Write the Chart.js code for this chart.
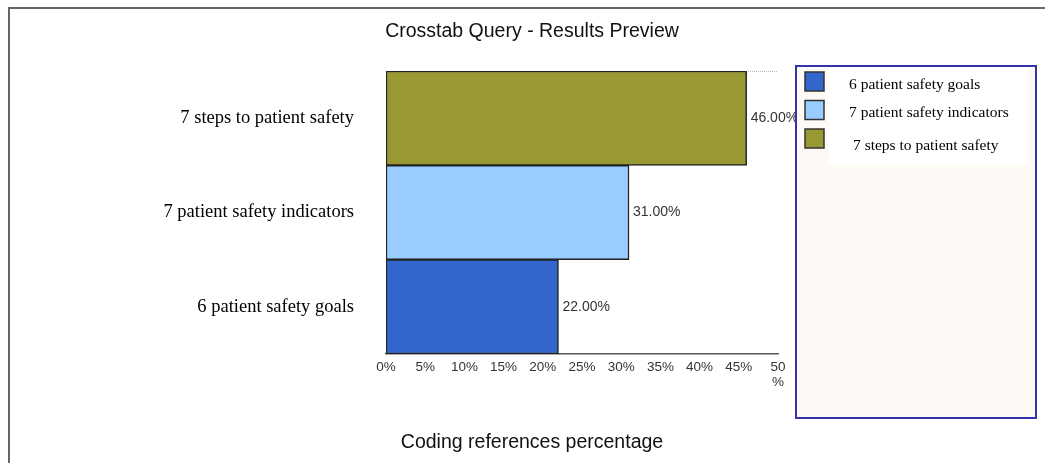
<!DOCTYPE html>
<html>
<head>
<meta charset="utf-8">
<script src="https://cdn.jsdelivr.net/npm/chart.js@4"></script>
<style>
  html, body { margin: 0; padding: 0; background: #fff; }
  #wrap { width: 1045px; height: 463px; }
</style>
</head>
<body>
<div id="wrap"><canvas id="crosstabChart" width="1045" height="463"></canvas></div>
<script>
// data (top to bottom)
const categories = ["7 steps to patient safety", "7 patient safety indicators", "6 patient safety goals"];
const percentages = [46, 31, 22];
const barColors = ["#999933", "#99ccff", "#3366cc"];
const tickValues = [0, 5, 10, 15, 20, 25, 30, 35, 40, 45, 50];

const chartTitle = "Crosstab Query - Results Preview";
const axisTitle = "Coding references percentage";

const SANS = "'Liberation Sans', Arial, sans-serif";
const SERIF = "'Liberation Serif', 'Times New Roman', serif";

// frame, titles, value labels and the boxed legend on the right
const extras = {
    id: "extras",
    beforeDatasetsDraw(chart) {
        const ctx = chart.ctx;
        const a = chart.chartArea;
        ctx.save();
        ctx.strokeStyle = "#bbb";
        ctx.lineWidth = 1;
        ctx.setLineDash([1, 1]);
        ctx.beginPath();
        ctx.moveTo(a.left, a.top + 0.5);
        ctx.lineTo(a.right, a.top + 0.5);
        ctx.stroke();
        ctx.restore();
    },
    afterDraw(chart) {
        const ctx = chart.ctx;
        const xs = chart.scales.x;
        const ys = chart.scales.y;
        ctx.save();

        // outer frame (top and left only)
        ctx.strokeStyle = "#666";
        ctx.lineWidth = 2;
        ctx.beginPath();
        ctx.moveTo(9, 463);
        ctx.lineTo(9, 8);
        ctx.lineTo(1045, 8);
        ctx.stroke();

        // titles
        ctx.fillStyle = "#111";
        ctx.textAlign = "center";
        ctx.textBaseline = "middle";
        ctx.font = "19.5px " + SANS;
        ctx.fillText(chartTitle, 532, 32);
        ctx.fillText(axisTitle, 532, 443);

        // value labels
        ctx.font = "14px " + SANS;
        ctx.fillStyle = "#333";
        ctx.textAlign = "left";
        percentages.forEach((v, i) => {
            ctx.fillText(v.toFixed(2) + "%", xs.getPixelForValue(v) + 4, ys.getPixelForValue(i));
        });

        // legend box
        ctx.fillStyle = "#fdf9f4";
        ctx.fillRect(796, 66, 240, 352);
        ctx.fillStyle = "#fff";
        ctx.fillRect(829, 68, 199, 97);
        ctx.strokeStyle = "#3333aa";
        ctx.lineWidth = 2;
        ctx.strokeRect(796, 66, 240, 352);

        ctx.font = "15.5px " + SERIF;
        ctx.textAlign = "left";
        const order = categories.map((c, i) => i).reverse();
        order.forEach((idx, k) => {
            const y = 72 + k * 28.5;
            ctx.fillStyle = barColors[idx];
            ctx.fillRect(805, y, 19, 19);
            ctx.strokeStyle = "#333";
            ctx.lineWidth = 1.5;
            ctx.strokeRect(805, y, 19, 19);
            ctx.fillStyle = "#000";
            ctx.fillText(categories[idx], 849 + (k === 2 ? 4 : 0), y + 12.5 + (k === 2 ? 4 : 0));
        });
        ctx.restore();
    }
};

const config = {
    type: "bar",
    data: {
        labels: categories,
        datasets: [{
            data: percentages,
            backgroundColor: barColors,
            borderColor: "#222",
            borderWidth: 1.5,
            borderSkipped: false,
            barPercentage: 1,
            categoryPercentage: 1,
        }],
    },
    options: {
        indexAxis: "y",
        responsive: false,
        animation: false,
        layout: { padding: { top: 71, right: 267, bottom: 0, left: 0 } },
        plugins: {
            legend: { display: false },
            tooltip: { enabled: false },
        },
        scales: {
            x: {
                min: 0,
                max: 50,
                afterFit: (s) => { s.height = 109; },
                afterBuildTicks: (s) => { s.ticks = tickValues.map((v) => ({ value: v })); },
                grid: { display: false, drawTicks: false },
                border: { display: true, color: "#555", width: 1.5 },
                ticks: {
                    padding: 6,
                    maxRotation: 0,
                    autoSkip: false,
                    color: "#333",
                    font: { family: SANS, size: 13.5, lineHeight: 1.1 },
                    callback: (v) => (v === 50 ? ["50", "%"] : v + "%"),
                },
            },
            y: {
                afterFit: (s) => { s.width = 386; },
                grid: { display: false, drawTicks: false },
                border: { display: false },
                ticks: {
                    padding: 32,
                    color: "#000",
                    font: { family: SERIF, size: 18.5 },
                },
            },
        },
    },
    plugins: [extras],
};

const crosstabChart = new Chart(document.getElementById("crosstabChart"), config);
</script>
</body>
</html>
